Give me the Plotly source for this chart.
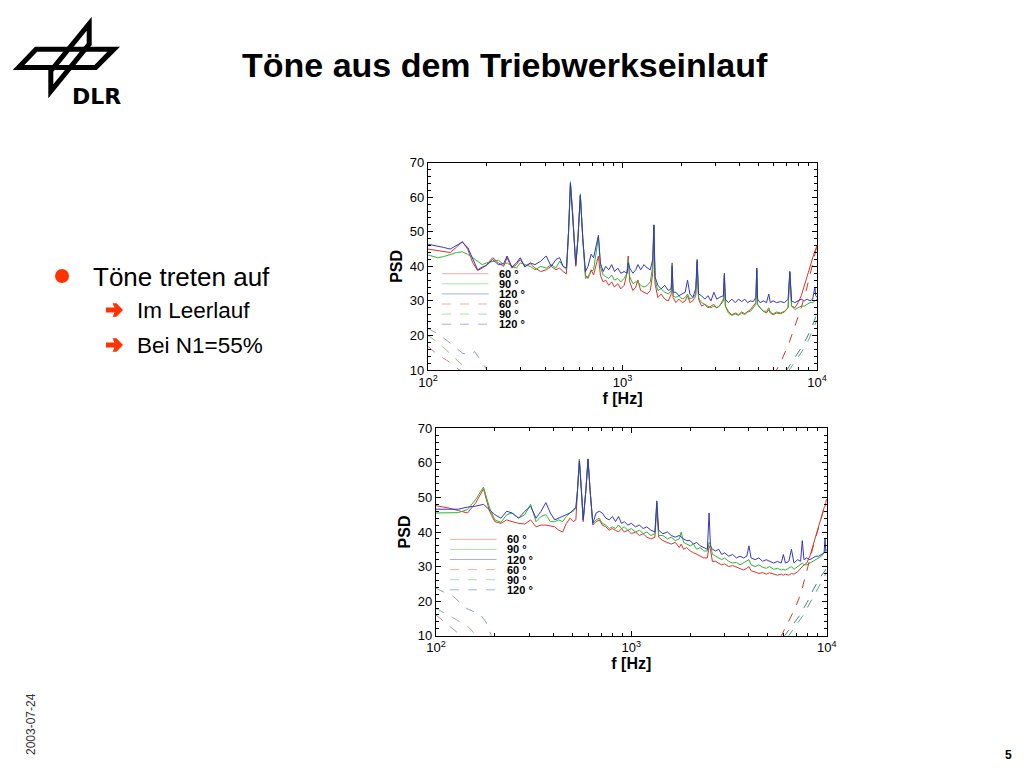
import plotly.graph_objects as go

W, H = 1008, 752      # figure size; the page adds an 8px body margin
OFF = 8

# ---------------- data: top chart (Leerlauf) ----------------
top_freq = [100, 105, 112, 120, 130, 140, 150, 160, 170, 180, 190, 200, 215, 230, 245, 255, 270, 285, 298, 315,
            335, 355, 380, 405, 430, 455, 475, 495, 515, 528, 540, 555, 575, 590, 607, 625, 645, 665, 690, 710,
            735, 752, 770, 795, 820, 850, 880, 910, 945, 980, 1020, 1055, 1070, 1090, 1130, 1170, 1200, 1240, 1290, 1340,
            1390, 1430, 1450, 1470, 1520, 1580, 1650, 1720, 1780, 1800, 1820, 1880, 1950, 2030, 2100, 2160, 2220, 2300, 2380, 2420,
            2460, 2550, 2650, 2750, 2850, 2950, 3050, 3150, 3300, 3340, 3380, 3500, 3650, 3800, 3950, 4100, 4250, 4400, 4550, 4700,
            4850, 4900, 4950, 5100, 5300, 5500, 5650, 5750, 5950, 6200, 6500, 6800, 7100, 7250, 7400, 7700, 8000, 8300, 8600, 8900,
            9200, 9500, 9750, 9850, 10000]
top_red = [45.0, 44.8, 44.5, 44.2, 44.0, 45.5, 47.2, 45.0, 41.0, 38.8, 39.5, 40.5, 42.5, 41.0, 40.0, 42.5, 39.5, 40.5, 42.0, 40.0,
           40.8, 39.5, 38.5, 39.0, 40.0, 39.0, 39.5, 38.5, 37.8, 50.0, 64.0, 55.0, 40.0, 48.0, 60.5, 48.0, 37.5, 36.5, 39.0, 37.5,
           41.0, 43.0, 37.5, 35.5, 36.0, 34.5, 35.5, 34.0, 35.0, 33.5, 34.5, 38.0, 43.0, 35.5, 33.0, 34.0, 36.0, 33.0, 32.5, 32.0,
           33.0, 38.0, 51.5, 35.0, 31.0, 32.0, 30.5, 30.0, 32.0, 41.0, 31.0, 29.5, 30.5, 29.5, 30.0, 31.5, 29.5, 30.0, 31.5, 41.0,
           30.5, 28.5, 29.0, 28.0, 28.5, 29.0, 28.0, 28.5, 30.0, 37.0, 28.5, 27.0, 26.0, 26.5, 26.0, 26.8, 26.3, 27.0, 27.5, 28.5,
           29.5, 39.0, 29.0, 28.0, 27.0, 26.5, 27.5, 26.5, 26.0, 26.5, 26.3, 26.8, 28.0, 38.0, 28.5, 28.0, 29.5, 31.5, 34.5, 37.5,
           40.0, 42.5, 44.5, 45.0, 46.0]
top_green = [43.3, 43.0, 42.5, 42.8, 43.5, 44.0, 44.2, 43.5, 42.5, 41.5, 40.5, 41.0, 41.5, 41.8, 40.5, 41.0, 40.0, 39.5, 41.0, 40.5,
             40.0, 39.0, 40.0, 39.5, 40.5, 39.5, 41.5, 40.0, 39.0, 50.0, 64.5, 55.0, 40.5, 48.0, 61.0, 48.0, 36.5, 37.0, 38.5, 39.0,
             45.0, 48.5, 40.0, 37.5, 37.0, 36.5, 37.5, 36.0, 36.5, 35.5, 36.5, 38.0, 42.0, 37.0, 35.0, 35.5, 35.5, 34.5, 34.0, 34.5,
             35.5, 40.0, 52.0, 36.0, 33.0, 33.5, 32.5, 32.0, 33.0, 40.5, 31.5, 31.0, 31.5, 30.5, 31.0, 32.0, 30.5, 31.0, 32.0, 41.5,
             31.0, 29.5, 29.0, 28.5, 28.0, 28.5, 28.0, 28.5, 30.5, 37.5, 28.5, 26.5, 25.8, 26.2, 25.8, 26.5, 26.0, 26.8, 27.0, 28.0,
             29.0, 39.5, 29.0, 28.0, 27.0, 27.0, 28.0, 26.8, 26.2, 26.8, 26.5, 27.0, 28.0, 38.5, 28.5, 27.5, 28.0, 28.5, 28.5, 29.0,
             29.5, 29.5, 30.0, 30.0, 30.5]
top_blue = [46.4, 46.2, 46.0, 45.5, 45.0, 46.0, 47.0, 45.5, 42.0, 39.0, 39.8, 40.2, 42.0, 40.5, 40.8, 43.0, 39.8, 41.0, 42.5, 39.8,
            41.0, 40.5, 41.5, 43.0, 40.0, 42.0, 42.5, 40.0, 39.5, 50.0, 64.0, 55.0, 40.5, 48.0, 60.5, 48.0, 38.5, 40.0, 43.5, 42.5,
            46.0, 49.0, 41.0, 38.5, 40.0, 39.0, 40.5, 38.5, 39.5, 38.0, 38.5, 38.0, 41.0, 39.5, 38.0, 39.0, 40.5, 39.0, 40.5, 39.5,
            39.0, 42.0, 52.0, 37.0, 34.5, 33.5, 34.5, 33.0, 33.5, 40.0, 32.5, 32.5, 31.5, 32.0, 32.5, 36.0, 32.0, 31.0, 33.5, 42.0,
            32.0, 31.5, 30.5, 31.5, 30.0, 32.5, 30.5, 31.0, 31.5, 38.0, 30.5, 29.5, 30.5, 29.5, 30.5, 29.8, 30.5, 29.5, 30.0, 29.8,
            31.0, 39.5, 30.5, 29.5, 30.0, 29.5, 32.0, 29.5, 30.0, 29.5, 29.8, 29.5, 30.5, 38.5, 30.0, 29.5, 30.0, 30.5, 30.0, 30.5,
            30.0, 30.5, 34.0, 31.5, 31.0]

top_dash_red_f = [6000, 6600, 7200, 7800, 8300, 8800, 9400, 10000]
top_dash_red = [8.5, 13.0, 18.0, 23.5, 28.0, 33.0, 39.5, 46.0]
top_dash_blue_f = [6900, 7500, 8200, 8900, 9500, 10000]
top_dash_blue = [9.5, 12.5, 16.0, 19.5, 23.0, 26.5]
top_dash_green_f = [7100, 7700, 8400, 9100, 9600, 10000]
top_dash_green = [9.5, 12.5, 15.5, 19.0, 22.0, 24.5]
top_low_blue_f = [100, 112, 124, 138, 151, 163, 174, 188, 200, 210]
top_low_blue = [22.0, 20.5, 18.7, 16.5, 14.8, 14.5, 15.3, 12.5, 10.0, 8.5]
top_low_green_f = [100, 112, 124, 140, 158, 170]
top_low_green = [20.0, 18.0, 15.8, 13.0, 10.0, 8.5]
top_low_red_f = [100, 112, 124, 135, 145, 160]
top_low_red = [16.8, 14.5, 12.9, 11.5, 10.0, 8.5]

# ---------------- data: bottom chart (N1=55%) ----------------
bot_freq = [100, 115, 130, 145, 160, 175, 188, 200, 215, 230, 245, 265, 285, 305, 325, 345, 365, 385, 405, 425,
            445, 465, 485, 505, 520, 530, 542, 555, 567, 585, 600, 615, 635, 660, 685, 710, 740, 770, 800, 830,
            860, 890, 920, 960, 1000, 1050, 1100, 1150, 1200, 1260, 1320, 1350, 1380, 1450, 1530, 1600, 1680, 1760, 1800, 1850,
            1920, 2000, 2080, 2160, 2250, 2350, 2450, 2500, 2540, 2600, 2700, 2800, 2900, 3000, 3150, 3300, 3450, 3600, 3750, 3900,
            4000, 4100, 4300, 4500, 4700, 4900, 5100, 5350, 5600, 5850, 6000, 6150, 6400, 6600, 6800, 7100, 7350, 7500, 7650, 7900,
            8200, 8500, 8800, 9100, 9400, 9700, 9800, 9900, 10000]
bot_red = [47.6, 47.0, 46.2, 45.5, 48.5, 52.5, 46.0, 43.0, 42.5, 43.5, 43.0, 42.5, 42.3, 43.5, 41.5, 42.0, 42.0, 41.8, 41.5, 40.5,
           40.0, 42.5, 44.0, 43.0, 43.5, 52.0, 61.0, 52.0, 43.0, 52.0, 61.0, 52.0, 42.0, 43.0, 43.5, 42.0, 41.5, 40.5, 41.0, 40.5,
           40.0, 41.0, 40.0, 40.5, 39.5, 40.0, 39.0, 39.5, 38.5, 38.0, 38.5, 47.0, 38.5, 37.5, 37.0, 36.5, 37.0, 35.5, 36.5, 35.0,
           35.5, 34.5, 34.0, 33.5, 33.0, 32.5, 32.5, 36.0, 35.0, 31.5, 31.5, 31.0, 30.5, 30.8, 30.0, 30.3, 29.8, 29.5, 29.0, 29.5,
           30.0, 28.8, 28.5, 28.0, 28.3, 27.8, 28.2, 27.8, 27.5, 27.8, 27.5, 27.8, 27.5, 28.0, 27.8, 28.5, 29.5, 30.0, 30.5, 31.0,
           33.0, 36.0, 39.0, 41.5, 44.5, 47.0, 47.5, 48.5, 49.5]
bot_green = [45.5, 45.6, 45.6, 46.5, 49.5, 53.0, 47.0, 43.5, 42.8, 45.0, 45.5, 44.0, 45.0, 48.0, 43.0, 44.5, 45.0, 43.0, 43.0, 43.5,
             43.0, 44.5, 45.5, 46.0, 47.0, 52.0, 61.0, 52.0, 43.5, 52.0, 61.2, 52.0, 42.5, 43.5, 44.0, 42.5, 42.0, 41.0, 41.5, 41.0,
             42.0, 41.0, 41.5, 40.5, 41.0, 40.0, 40.5, 39.5, 40.0, 39.0, 39.5, 48.5, 39.0, 39.0, 38.0, 38.5, 37.5, 38.0, 40.0, 37.0,
             36.5, 36.0, 36.5, 35.0, 35.5, 34.5, 34.5, 37.0, 36.5, 33.5, 33.0, 32.5, 32.0, 32.5, 31.5, 31.0, 31.2, 30.5, 31.0, 31.5,
             32.0, 30.5, 30.0, 30.5, 29.8, 29.5, 30.0, 29.2, 29.5, 29.0, 29.2, 29.0, 29.5, 30.0, 29.2, 30.0, 30.5, 31.0, 30.5, 30.5,
             31.0, 31.5, 32.0, 32.5, 33.0, 34.0, 34.5, 34.5, 35.0]
bot_blue = [46.6, 46.6, 46.6, 47.2, 47.5, 48.0, 46.5, 45.0, 44.0, 46.0, 45.5, 44.0, 46.0, 47.5, 44.0, 46.0, 48.5, 45.5, 43.5, 44.0,
            44.5, 45.0, 45.5, 46.5, 47.0, 52.0, 60.5, 52.0, 43.5, 52.0, 61.0, 52.0, 42.5, 45.5, 46.0, 45.5, 44.0, 43.5, 44.5, 43.0,
            44.5, 42.5, 43.0, 42.0, 42.5, 41.5, 42.0, 41.0, 41.5, 40.5, 40.0, 49.0, 40.5, 39.5, 40.0, 39.0, 38.5, 39.0, 38.5, 38.0,
            37.5, 37.5, 36.5, 37.0, 36.0, 35.5, 35.0, 45.5, 36.0, 35.0, 34.5, 35.0, 33.5, 34.0, 33.0, 33.5, 32.5, 33.0, 32.5, 33.0,
            36.0, 32.5, 32.0, 32.5, 31.5, 32.0, 31.5, 31.0, 31.5, 31.0, 33.5, 31.0, 31.5, 35.0, 31.0, 32.0, 31.5, 37.5, 32.0, 32.5,
            32.0, 32.5, 33.0, 33.0, 33.5, 34.0, 38.0, 34.5, 34.5]

bot_dash_red_f = [5800, 6300, 6900, 7400, 7800, 8100, 8500, 9100, 9700, 10000]
bot_dash_red = [9.5, 13.5, 18.0, 22.5, 27.0, 31.0, 35.5, 41.5, 47.0, 49.5]
bot_dash_blue_f = [6000, 6600, 7300, 8000, 8600, 9300, 10000]
bot_dash_blue = [9.5, 12.5, 16.0, 20.0, 23.7, 27.0, 29.5]
bot_dash_green_f = [6300, 6900, 7600, 8300, 9000, 9600, 10000]
bot_dash_green = [9.5, 12.5, 16.0, 20.0, 23.5, 26.5, 28.5]
bot_low_blue_f = [100, 123, 143, 168, 180, 189, 195]
bot_low_blue = [23.7, 21.3, 17.9, 16.2, 14.0, 10.7, 9.0]
bot_low_green_f = [100, 118, 133, 150, 160, 168]
bot_low_green = [17.9, 15.5, 14.0, 12.0, 10.0, 9.0]
bot_low_red_f = [100, 113, 128, 140]
bot_low_red = [16.0, 13.6, 11.0, 9.0]

legend_labels = ["60 °", "90 °", "120 °", "60 °", "90 °", "120 °"]
x_tickvals = [100, 1000, 10000]
x_ticktext = ["10<sup>2</sup>", "10<sup>3</sup>", "10<sup>4</sup>"]
x_minor = [200, 300, 400, 500, 600, 700, 800, 900, 2000, 3000, 4000, 5000, 6000, 7000, 8000, 9000]

RED, GREEN, BLUE = "#d8352a", "#2fb52f", "#3535cc"
LRED, LGREEN, LBLUE = "#c08a8a", "#8fc08f", "#8fa0b8"
FONT = "Liberation Sans"


def px(x):
    """page pixel x -> paper fraction"""
    return (x - OFF) / W


def py(y):
    """page pixel y -> paper fraction"""
    return 1 - (y - OFF) / H


fig = go.Figure()

panels = [
    dict(xa="x", ya="y", box=(428, 162.7, 817, 370),
         f=top_freq, r=top_red, g=top_green, b=top_blue,
         dash=[(top_dash_red_f, top_dash_red, RED), (top_dash_blue_f, top_dash_blue, "#4a7aa0"),
               (top_dash_green_f, top_dash_green, "#55b070"),
               (top_low_blue_f, top_low_blue, LBLUE), (top_low_green_f, top_low_green, LGREEN),
               (top_low_red_f, top_low_red, LRED)]),
    dict(xa="x2", ya="y2", box=(436, 428.3, 826.7, 635.7),
         f=bot_freq, r=bot_red, g=bot_green, b=bot_blue,
         dash=[(bot_dash_red_f, bot_dash_red, RED), (bot_dash_blue_f, bot_dash_blue, "#4a7aa0"),
               (bot_dash_green_f, bot_dash_green, "#55b070"),
               (bot_low_blue_f, bot_low_blue, LBLUE), (bot_low_green_f, bot_low_green, LGREEN),
               (bot_low_red_f, bot_low_red, LRED)]),
]

shapes = []
annotations = []

for i, p in enumerate(panels):
    for vals, col, name in ((p["r"], RED, "60°"), (p["g"], GREEN, "90°"), (p["b"], BLUE, "120°")):
        fig.add_trace(go.Scatter(x=p["f"], y=vals, mode="lines", xaxis=p["xa"], yaxis=p["ya"],
                                 line=dict(color=col, width=1), name=name, showlegend=False))
    for fx, fy, col in p["dash"]:
        fig.add_trace(go.Scatter(x=fx, y=fy, mode="lines", xaxis=p["xa"], yaxis=p["ya"],
                                 line=dict(color=col, width=1, dash="dash"), showlegend=False))
    x0, y0, x1, y1 = p["box"]
    sfx = "" if i == 0 else "2"
    common = dict(showline=True, linecolor="black", linewidth=1.2, mirror="allticks",
                  ticks="inside", ticklen=5, tickcolor="black", showgrid=False, zeroline=False,
                  automargin=False, tickfont=dict(family=FONT, size=13, color="black"))
    fig.layout["xaxis" + sfx] = dict(common, type="log", range=[2, 4], domain=[px(x0), px(x1)],
                                     anchor="y" + sfx, tickvals=x_tickvals, ticktext=x_ticktext,
                                     minor=dict(tickvals=x_minor, ticks="inside", ticklen=3, tickcolor="black"),
                                     title=dict(text="<b>f [Hz]</b>", standoff=0,
                                                font=dict(family=FONT, size=16, color="black")))
    fig.layout["yaxis" + sfx] = dict(common, range=[10, 70], tick0=10, dtick=10,
                                     domain=[py(y1), py(y0)], anchor="x" + sfx,
                                     minor=dict(dtick=2, ticks="inside", ticklen=2.5, tickcolor="black"),
                                     title=dict(text="<b>PSD</b>", standoff=3,
                                                font=dict(family=FONT, size=16, color="black")))
    # legend drawn inside the panel
    lx0 = x0 + 14
    lx1 = lx0 + 46.5
    for k, lab in enumerate(legend_labels):
        yy = y0 + 111 + k * 10.1
        col = [RED, GREEN, BLUE][k % 3]
        shapes.append(dict(type="line", xref="paper", yref="paper", x0=px(lx0), x1=px(lx1),
                           y0=py(yy), y1=py(yy), opacity=0.4,
                           line=dict(color=col, width=1, dash="solid" if k < 3 else "dash")))
        annotations.append(dict(text="<b>" + lab + "</b>", x=px(lx1 + 8), y=py(yy), xref="paper", yref="paper",
                                xanchor="left", yanchor="middle", showarrow=False,
                                font=dict(family=FONT, size=11, color="black")))

# ---------------- slide decorations ----------------
def ring(points):
    return "M " + " L ".join(f"{px(a):.5f},{py(b):.5f}" for a, b in points) + " Z"


# DLR logo: two outlined parallelograms drawn as filled rings (even-odd)
logo_h_outer = [(12.7, 70), (35, 46.7), (120, 46.7), (96.7, 70)]
logo_h_inner = [(24.4, 65), (37.2, 51.7), (107.3, 51.7), (94.5, 65)]
logo_v_outer = [(91.7, 16.7), (91.7, 45), (48.3, 98.3), (48.3, 70)]
logo_v_inner = [(86.7, 30.7), (86.7, 43.2), (53.3, 84.3), (53.3, 71.8)]
for outer, inner in ((logo_h_outer, logo_h_inner), (logo_v_outer, logo_v_inner)):
    shapes.append(dict(type="path", xref="paper", yref="paper", path=ring(outer) + " " + ring(inner),
                       fillcolor="black", fillrule="evenodd", line=dict(width=0)))
annotations.append(dict(text="<b>DLR</b>", x=px(96), y=py(96), xref="paper", yref="paper",
                        xanchor="center", yanchor="middle", showarrow=False,
                        font=dict(family="DejaVu Sans", size=22, color="black")))

annotations.append(dict(text="<b>Töne aus dem Triebwerkseinlauf</b>", x=px(505), y=py(65),
                        xref="paper", yref="paper", xanchor="center", yanchor="middle", showarrow=False,
                        font=dict(family=FONT, size=34, color="black")))

# bullets
shapes.append(dict(type="circle", xref="paper", yref="paper", x0=px(55), x1=px(69), y0=py(283), y1=py(269),
                   fillcolor="#ff3300", line=dict(width=0)))
annotations.append(dict(text="Töne treten auf", x=px(91), y=py(277), xref="paper", yref="paper",
                        xanchor="left", yanchor="middle", showarrow=False,
                        font=dict(family=FONT, size=26, color="black")))
for yy, txt in ((310, "Im Leerlauf"), (345, "Bei N1=55%")):
    shapes.append(dict(type="path", xref="paper", yref="paper",
                       path=ring([(106, yy - 2.6), (114.5, yy - 2.6), (112.5, yy - 6.8), (116.5, yy - 6.8),
                                  (123, yy), (116.5, yy + 6.8), (112.5, yy + 6.8), (114.5, yy + 2.6),
                                  (106, yy + 2.6)]),
                       fillcolor="#ff3300", line=dict(width=0)))
    annotations.append(dict(text=txt, x=px(135), y=py(yy), xref="paper", yref="paper",
                            xanchor="left", yanchor="middle", showarrow=False,
                            font=dict(family=FONT, size=22.5, color="black")))

annotations.append(dict(text="2003-07-24", x=px(31), y=py(724), xref="paper", yref="paper",
                        xanchor="center", yanchor="middle", showarrow=False, textangle=-90,
                        font=dict(family=FONT, size=12, color="#333333")))
annotations.append(dict(text="<b>5</b>", x=px(1008), y=py(755), xref="paper", yref="paper",
                        xanchor="center", yanchor="middle", showarrow=False,
                        font=dict(family=FONT, size=12, color="black")))

fig.update_layout(width=W, height=H, autosize=False, margin=dict(l=0, r=0, t=0, b=0),
                  paper_bgcolor="white", plot_bgcolor="white", showlegend=False,
                  shapes=shapes, annotations=annotations)

fig.write_html("out.html")
